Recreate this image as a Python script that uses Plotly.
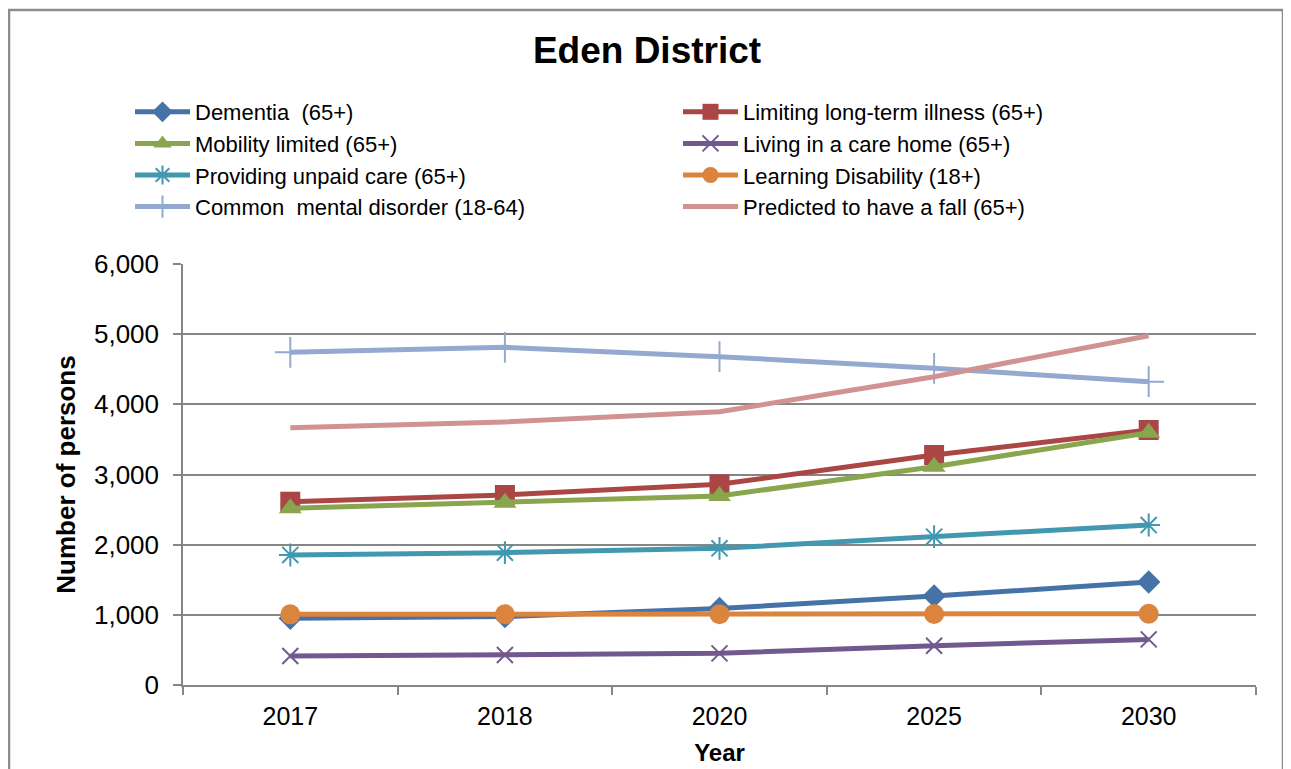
import plotly.graph_objects as go

years = ["2017", "2018", "2020", "2025", "2030"]

dementia = [950, 975, 1090, 1268, 1468]
limiting_illness = [2612, 2708, 2860, 3278, 3634]
mobility = [2518, 2598, 2695, 3111, 3596]
care_home = [413, 428, 451, 560, 650]
unpaid_care = [1853, 1886, 1948, 2114, 2280]
learning_dis = [1007, 1008, 1010, 1012, 1015]
mental_disorder = [4741, 4813, 4679, 4513, 4323]
fall = [3667, 3748, 3895, 4394, 4978]

y_ticks = [0, 1000, 2000, 3000, 4000, 5000, 6000]
y_tick_labels = ["0", "1,000", "2,000", "3,000", "4,000", "5,000", "6,000"]

series = [
    ("Dementia  (65+)", dementia, "#4572A7", "diamond", 18, "legend"),
    ("Limiting long-term illness (65+)", limiting_illness, "#AA4643", "square", 20, "legend2"),
    ("Mobility limited (65+)", mobility, "#89A54E", "triangle-up", 20, "legend"),
    ("Living in a care home (65+)", care_home, "#71588F", "x-thin-open", 16, "legend2"),
    ("Providing unpaid care (65+)", unpaid_care, "#4198AF", "asterisk-open", 19, "legend"),
    ("Learning Disability (18+)", learning_dis, "#DB843D", "circle", 20, "legend2"),
    ("Common  mental disorder (18-64)", mental_disorder, "#93A9CF", "cross-thin-open", 22, "legend"),
    ("Predicted to have a fall (65+)", fall, "#D19392", None, 0, "legend2"),
]

FONT = "Liberation Sans, Arial, sans-serif"

fig = go.Figure()
for i, (name, vals, color, sym, size, leg) in enumerate(series):
    if sym is None:
        mode = "lines"
        marker = None
    else:
        mode = "lines+markers"
        marker = dict(symbol=sym, size=size, color=color,
                      line=dict(color=color, width=2 if "open" in sym else 0))
    fig.add_trace(go.Scatter(
        x=years, y=vals, name=name, mode=mode, marker=marker,
        line=dict(color=color, width=5),
        legend=leg, legendgroup=f"g{i}",
    ))

# reference pixel geometry (page has an 8px body offset)
OFF = 8
REF_W, REF_H = 1291, 769
L_ref, R_ref, T_ref, B_ref = 183, 1256, 264, 685
W, H = REF_W - OFF, REF_H - OFF
pw, ph = R_ref - L_ref, B_ref - T_ref

def px_x(p):
    return (p - L_ref) / pw

def px_y(p):
    return (B_ref - p) / ph

leg_common = dict(
    orientation="v", xanchor="left", yanchor="top",
    font=dict(family=FONT, size=22, color="#000000"),
    bgcolor="rgba(0,0,0,0)", tracegroupgap=0, itemwidth=55,
    borderwidth=0,
)

fig.update_layout(
    width=W, height=H,
    margin=dict(l=L_ref - OFF, r=W - (R_ref - OFF), t=T_ref - OFF,
                b=H - (B_ref - OFF), autoexpand=False),
    paper_bgcolor="#FFFFFF", plot_bgcolor="#FFFFFF",
    font=dict(family=FONT, color="#000000"),
    title=dict(text="<b>Eden District</b>", xref="container",
               x=(647 - OFF) / W, xanchor="center",
               yref="container", y=1 - (50 - OFF) / H, yanchor="middle",
               font=dict(family=FONT, size=37, color="#000000")),
    legend=dict(x=px_x(130), y=px_y(91), **leg_common),
    legend2=dict(x=px_x(678), y=px_y(91), **leg_common),
    xaxis=dict(
        type="category", range=[-0.5, len(years) - 0.5],
        tickson="boundaries", ticks="outside", ticklen=8,
        tickcolor="#868686", tickwidth=1.5, showline=True, linecolor="#868686",
        linewidth=1.5, showgrid=False, ticklabelstandoff=8,
        tickfont=dict(family=FONT, size=25, color="#000000"),
        title=dict(text="<b>Year</b>", font=dict(family=FONT, size=24, color="#000000"),
                   standoff=15),
    ),
    yaxis=dict(
        range=[0, 6000], tickvals=y_ticks, ticktext=y_tick_labels,
        ticks="outside", ticklen=8, tickcolor="#868686", tickwidth=1.5,
        showline=True, linecolor="#868686", linewidth=1.5,
        showgrid=True, gridcolor="#868686", gridwidth=1.5, zeroline=False,
        ticklabelstandoff=9,
        tickfont=dict(family=FONT, size=26, color="#000000"),
        title=dict(text="<b>Number of persons</b>",
                   font=dict(family=FONT, size=26, color="#000000"), standoff=11),
    ),
    showlegend=True,
)

fig.add_shape(type="rect", xref="paper", yref="paper",
              x0=px_x(9), x1=px_x(1283), y0=px_y(800), y1=px_y(10),
              line=dict(color="#8C8C8C", width=2.5), fillcolor="rgba(0,0,0,0)",
              layer="below")

fig.write_html("out.html")
